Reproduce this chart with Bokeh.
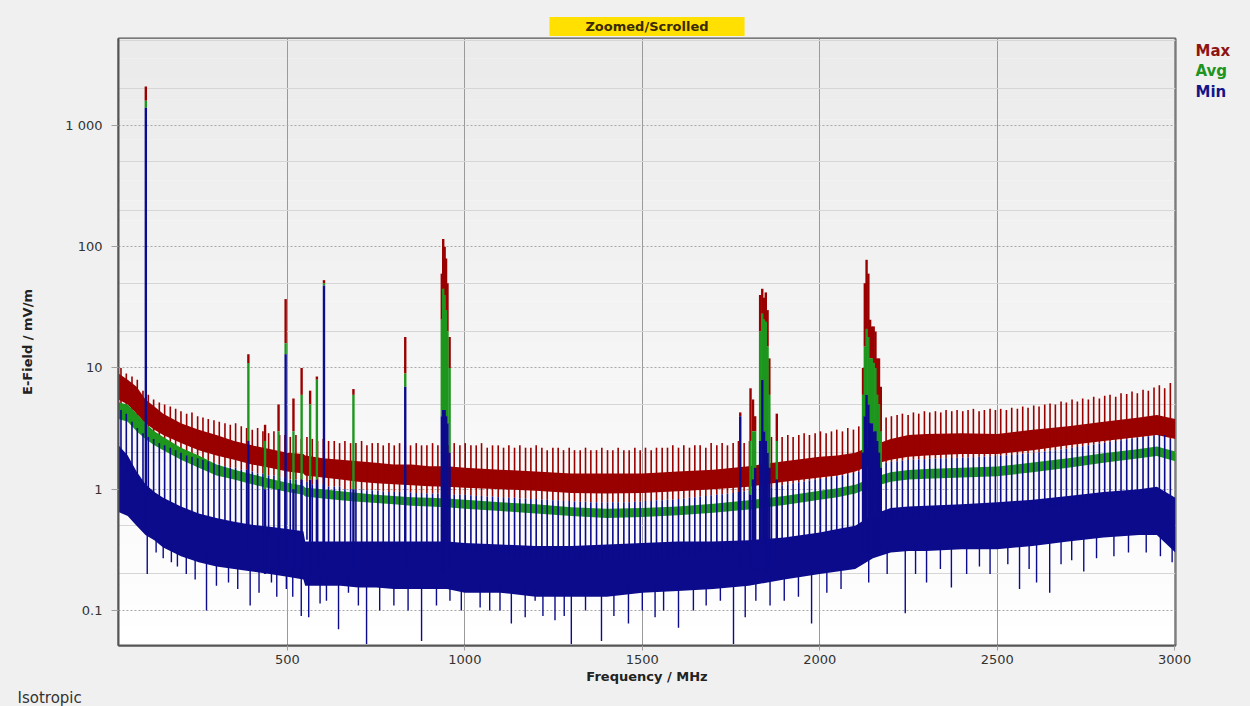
import numpy as np
from bokeh.plotting import figure
from bokeh.layouts import row
from bokeh.models import Range1d, FixedTicker, CustomJSTickFormatter, Title
from bokeh.core.properties import value
from bokeh.embed import file_html
from bokeh.resources import INLINE

# ---------------- data ----------------
freq_env = [24, 50, 75, 100, 125, 150, 200, 250, 300, 350, 400, 450, 500, 545, 550,
            600, 650, 700, 750, 800, 850, 900, 950, 1000, 1100, 1200, 1300, 1400, 1500,
            1600, 1700, 1800, 1900, 2000, 2050, 2100, 2150, 2200, 2250, 2300, 2400, 2500,
            2600, 2700, 2800, 2900, 2950, 3002]
max_lo = [5.5, 5.0, 4.2, 3.5, 3.1, 2.8, 2.4, 2.1, 1.9, 1.75, 1.6, 1.5, 1.4, 1.35, 1.3,
          1.25, 1.2, 1.15, 1.12, 1.1, 1.08, 1.06, 1.05, 1.03, 1.0, 0.97, 0.93, 0.92, 0.93,
          0.96, 1.0, 1.05, 1.15, 1.25, 1.3, 1.4, 1.6, 1.75, 1.85, 1.9, 1.95, 1.95,
          2.1, 2.3, 2.5, 2.7, 2.8, 2.6]
max_hi = [9.0, 8.0, 7.0, 5.5, 4.8, 4.2, 3.5, 3.1, 2.8, 2.5, 2.3, 2.15, 2.0, 1.95, 1.9,
          1.8, 1.75, 1.7, 1.65, 1.6, 1.6, 1.55, 1.55, 1.5, 1.45, 1.4, 1.35, 1.35, 1.35,
          1.4, 1.45, 1.55, 1.7, 1.85, 1.9, 2.0, 2.3, 2.6, 2.8, 2.85, 2.9, 2.85,
          3.1, 3.3, 3.6, 3.9, 4.1, 3.8]
avg_lo = [3.8, 3.6, 3.0, 2.6, 2.3, 2.1, 1.75, 1.5, 1.3, 1.2, 1.1, 1.02, 0.95, 0.9, 0.87,
          0.84, 0.81, 0.79, 0.77, 0.75, 0.73, 0.72, 0.71, 0.69, 0.66, 0.63, 0.6, 0.58, 0.59,
          0.61, 0.64, 0.68, 0.74, 0.82, 0.86, 0.92, 1.05, 1.15, 1.2, 1.22, 1.25, 1.28,
          1.38, 1.5, 1.65, 1.8, 1.88, 1.7]
avg_hi = [5.2, 5.0, 4.2, 3.5, 3.0, 2.7, 2.2, 1.9, 1.6, 1.45, 1.33, 1.22, 1.13, 1.07, 1.03,
          1.0, 0.96, 0.93, 0.9, 0.88, 0.86, 0.85, 0.84, 0.82, 0.78, 0.75, 0.71, 0.69, 0.7,
          0.72, 0.76, 0.81, 0.88, 0.97, 1.02, 1.09, 1.25, 1.38, 1.44, 1.47, 1.5, 1.54,
          1.66, 1.8, 1.98, 2.15, 2.25, 2.05]
min_lo = [0.65, 0.6, 0.5, 0.42, 0.38, 0.33, 0.28, 0.25, 0.23, 0.22, 0.21, 0.2, 0.19, 0.18, 0.16,
          0.16, 0.16, 0.155, 0.155, 0.15, 0.15, 0.15, 0.15, 0.14, 0.14, 0.13, 0.13, 0.13, 0.14,
          0.145, 0.15, 0.16, 0.18, 0.2, 0.21, 0.22, 0.27, 0.3, 0.31, 0.31, 0.32, 0.32,
          0.34, 0.37, 0.4, 0.42, 0.42, 0.3]
min_hi = [2.3, 1.9, 1.4, 1.1, 0.95, 0.85, 0.72, 0.63, 0.58, 0.54, 0.51, 0.49, 0.47, 0.45, 0.37,
          0.37, 0.37, 0.37, 0.37, 0.37, 0.37, 0.37, 0.37, 0.36, 0.35, 0.34, 0.34, 0.35, 0.36,
          0.37, 0.37, 0.38, 0.4, 0.44, 0.47, 0.5, 0.62, 0.7, 0.72, 0.73, 0.75, 0.78,
          0.82, 0.88, 0.95, 1.0, 1.05, 0.85]

# periodic comb of spurs
comb_freq = [31, 46, 62, 77, 93, 108, 123, 139, 154, 170,
             185, 200, 216, 231, 247, 262, 277, 293, 308, 324,
             339, 354, 370, 385, 401, 416, 431, 447, 462, 478,
             493, 508, 524, 539, 555, 570, 585, 601, 616, 632,
             647, 662, 678, 693, 709, 724, 739, 755, 770, 786,
             801, 816, 832, 847, 863, 878, 893, 909, 924, 940,
             955, 970, 986, 1001, 1017, 1032, 1047, 1063, 1078, 1094,
             1109, 1124, 1140, 1155, 1171, 1186, 1201, 1217, 1232, 1248,
             1263, 1278, 1294, 1309, 1325, 1340, 1355, 1371, 1386, 1402,
             1417, 1432, 1448, 1463, 1479, 1494, 1509, 1525, 1540, 1556,
             1571, 1586, 1602, 1617, 1633, 1648, 1663, 1679, 1694, 1710,
             1725, 1740, 1756, 1771, 1787, 1802, 1817, 1833, 1848, 1864,
             1879, 1894, 1910, 1925, 1941, 1956, 1971, 1987, 2002, 2018,
             2033, 2048, 2064, 2079, 2095, 2110, 2125, 2141, 2156, 2172,
             2187, 2202, 2218, 2233, 2249, 2264, 2279, 2295, 2310, 2326,
             2341, 2356, 2372, 2387, 2403, 2418, 2433, 2449, 2464, 2480,
             2495, 2510, 2526, 2541, 2557, 2572, 2587, 2603, 2618, 2634,
             2649, 2664, 2680, 2695, 2711, 2726, 2741, 2757, 2772, 2788,
             2803, 2818, 2834, 2849, 2865, 2880, 2895, 2911, 2926, 2942,
             2957, 2972, 2988]
comb_max = [10, 9, 8.5, 8, 6.5, 6, 5.5, 5.2, 5.0, 4.8,
            4.6, 4.4, 4.2, 4.3, 4.0, 3.9, 3.8, 3.7, 3.6, 3.5,
            3.4, 3.5, 3.3, 3.2, 3.1, 3.2, 3.0, 2.9, 3.0, 2.8,
            2.8, 2.7, 2.8, 2.6, 2.7, 2.6, 2.5, 2.6, 2.5, 2.5,
            2.4, 2.5, 2.4, 2.4, 2.5, 2.3, 2.4, 2.4, 2.3, 2.4,
            2.3, 2.4, 2.3, 2.3, 2.4, 2.3, 2.3, 2.4, 2.3, 2.3,
            2.3, 2.4, 2.3, 2.4, 2.3, 2.3, 2.4, 2.2, 2.3, 2.3,
            2.2, 2.3, 2.2, 2.3, 2.2, 2.2, 2.3, 2.2, 2.1, 2.2,
            2.2, 2.1, 2.2, 2.1, 2.1, 2.2, 2.1, 2.1, 2.2, 2.1,
            2.1, 2.2, 2.1, 2.1, 2.2, 2.1, 2.2, 2.1, 2.2, 2.2,
            2.2, 2.3, 2.2, 2.3, 2.2, 2.3, 2.3, 2.2, 2.4, 2.3,
            2.4, 2.3, 2.4, 2.5, 2.4, 2.5, 2.6, 2.5, 2.6, 2.7,
            2.6, 2.7, 2.8, 2.7, 2.8, 2.9, 2.8, 2.9, 3.0, 2.9,
            3.0, 3.1, 3.0, 3.2, 3.1, 3.3, 3.4, 3.6, 3.8, 3.9,
            3.9, 4.0, 4.1, 4.2, 4.1, 4.3, 4.2, 4.4, 4.3, 4.4,
            4.3, 4.5, 4.4, 4.5, 4.4, 4.5, 4.6, 4.4, 4.5, 4.6,
            4.5, 4.6, 4.5, 4.7, 4.6, 4.8, 4.7, 4.9, 4.8, 5.0,
            5.1, 5.0, 5.3, 5.2, 5.5, 5.3, 5.6, 5.5, 5.8, 5.6,
            5.9, 6.0, 5.8, 6.2, 6.1, 6.4, 6.2, 6.6, 6.5, 6.9,
            7.2, 6.8, 7.5]
comb_min = [4.5, 4.2, 3.6, 3.2, 2.9, 2.7, 2.6, 2.4, 2.3, 2.2,
            2.1, 2.0, 1.9, 1.85, 1.8, 1.75, 1.7, 1.65, 1.6, 1.55,
            1.5, 1.5, 1.45, 1.45, 1.4, 1.35, 1.35, 1.3, 1.3, 1.25,
            1.25, 1.2, 1.2, 1.15, 1.15, 1.1, 1.1, 1.1, 1.05, 1.05,
            1.05, 1.0, 1.0, 1.0, 1.0, 0.98, 0.98, 0.97, 0.96, 0.95,
            0.95, 0.95, 0.94, 0.94, 0.93, 0.93, 0.92, 0.92, 0.92, 0.91,
            0.91, 0.9, 0.9, 0.9, 0.89, 0.88, 0.88, 0.87, 0.87, 0.86,
            0.86, 0.85, 0.85, 0.84, 0.84, 0.83, 0.83, 0.82, 0.82, 0.81,
            0.81, 0.8, 0.8, 0.79, 0.79, 0.79, 0.78, 0.78, 0.78, 0.78,
            0.78, 0.78, 0.78, 0.78, 0.79, 0.79, 0.8, 0.8, 0.81, 0.81,
            0.82, 0.82, 0.83, 0.84, 0.85, 0.86, 0.87, 0.88, 0.89, 0.9,
            0.91, 0.92, 0.93, 0.95, 0.96, 0.97, 0.99, 1.0, 1.02, 1.04,
            1.06, 1.08, 1.1, 1.12, 1.14, 1.16, 1.18, 1.2, 1.22, 1.24,
            1.26, 1.28, 1.3, 1.33, 1.36, 1.4, 1.45, 1.5, 1.55, 1.6,
            1.65, 1.68, 1.7, 1.72, 1.74, 1.75, 1.76, 1.77, 1.78, 1.79,
            1.8, 1.8, 1.81, 1.82, 1.82, 1.83, 1.84, 1.85, 1.86, 1.87,
            1.88, 1.89, 1.9, 1.92, 1.94, 1.96, 1.98, 2.0, 2.02, 2.05,
            2.08, 2.1, 2.13, 2.16, 2.2, 2.23, 2.26, 2.3, 2.34, 2.38,
            2.42, 2.46, 2.5, 2.54, 2.58, 2.62, 2.66, 2.7, 2.74, 2.78,
            2.8, 2.8, 2.6]

# strong emitters (FM, TV, GSM900, GSM1800, UMTS ...)
big_freq = [101, 390, 437, 475, 495, 517, 540, 564, 583, 603,
            686, 832, 935, 939, 943, 947, 951, 957, 1776, 1805,
            1812, 1818, 1832, 1838, 1843, 1848, 1853, 1858, 1879, 2122,
            2127, 2132, 2137, 2142, 2147, 2152, 2157, 2162, 2167, 2172]
big_max = [2100, 13, 3.4, 5, 37, 5.6, 10, 6.5, 8.5, 53,
           6.7, 18, 60, 116, 100, 80, 50, 18, 4.3, 6.8,
           5.5, 4, 40, 45, 38, 42, 30, 12, 4.2, 10,
           50, 78, 60, 25, 22, 22, 20, 12, 12, 7]
big_avg = [1600, 11, 2.5, 3, 16, 3, 6, 5, 8, 50,
           6, 9, 25, 45, 40, 30, 20, 10, 4, 2.5,
           3, 3, 20, 28, 25, 24, 15, 6, 2.5, 6,
           15, 21, 18, 12, 12, 11, 10, 6, 5, 3]
big_min = [1400, 2.5, 1.0, 1.0, 13, 1.0, 1.2, 1.2, 1.2, 48,
           1.0, 7, 4, 4.5, 4.5, 4.0, 3.5, 2.0, 4, 0.9,
           1.2, 1.5, 2.5, 8, 3, 2.5, 2, 1.5, 1.2, 2,
           4, 6, 5, 3.5, 3.5, 3, 3, 2.5, 2, 1.5]
big_floor = [0.5, 0.3, 0.2, 0.2, 0.25, 0.2, 0.2, 0.2, 0.2, 0.25,
             0.2, 0.2, 0.2, 0.2, 0.2, 0.2, 0.2, 0.2, 0.2, 0.2,
             0.2, 0.2, 0.2, 0.2, 0.2, 0.2, 0.2, 0.2, 0.25, 0.3,
             0.3, 0.3, 0.3, 0.3, 0.3, 0.3, 0.3, 0.3, 0.3, 0.3]

# downward excursions of the Min trace
dip_freq = [105, 130, 150, 173, 190, 215, 240, 272, 300, 334, 360, 395, 420, 455, 470, 497,
            515, 539, 560, 592, 610, 644, 672, 700, 723, 760, 800, 840, 878, 920, 958, 990,
            1043, 1070, 1099, 1131, 1170, 1198, 1220, 1254, 1280, 1300, 1340, 1385, 1420, 1461,
            1500, 1536, 1560, 1602, 1644, 1680, 1720, 1757, 1790, 1820, 1860, 1900, 1940, 1977,
            2020, 2060, 2138, 2190, 2241, 2270, 2301, 2340, 2371, 2414, 2450, 2480, 2530, 2563,
            2590, 2611, 2648, 2680, 2710, 2744, 2780, 2829, 2870, 2920, 2960, 2993]
dip_low = [0.2, 0.3, 0.27, 0.25, 0.23, 0.2, 0.18, 0.1, 0.16, 0.17, 0.15, 0.11, 0.14, 0.17, 0.13, 0.15,
           0.13, 0.09, 0.088, 0.114, 0.12, 0.07, 0.14, 0.11, 0.053, 0.1, 0.11, 0.1, 0.056, 0.11, 0.12, 0.1,
           0.106, 0.1, 0.1, 0.078, 0.088, 0.12, 0.09, 0.083, 0.09, 0.053, 0.1, 0.056, 0.09, 0.078,
           0.1, 0.088, 0.1, 0.072, 0.1, 0.11, 0.12, 0.053, 0.088, 0.12, 0.11, 0.12, 0.13, 0.078,
           0.14, 0.15, 0.17, 0.2, 0.095, 0.2, 0.17, 0.22, 0.155, 0.2, 0.23, 0.2, 0.24, 0.15,
           0.22, 0.17, 0.14, 0.24, 0.26, 0.21, 0.27, 0.28, 0.3, 0.3, 0.28, 0.25]
dip_top = [0.45, 0.4, 0.35, 0.35, 0.3, 0.28, 0.26, 0.3, 0.24, 0.27, 0.23, 0.25, 0.22, 0.23, 0.21, 0.22,
           0.2, 0.2, 0.2, 0.19, 0.17, 0.19, 0.19, 0.17, 0.18, 0.17, 0.16, 0.16, 0.17, 0.16, 0.17, 0.15,
           0.16, 0.15, 0.16, 0.16, 0.16, 0.15, 0.14, 0.15, 0.14, 0.15, 0.14, 0.15, 0.14, 0.16,
           0.15, 0.16, 0.15, 0.17, 0.17, 0.16, 0.17, 0.17, 0.18, 0.17, 0.19, 0.19, 0.2, 0.22,
           0.21, 0.22, 0.3, 0.32, 0.35, 0.35, 0.35, 0.35, 0.36, 0.36, 0.36, 0.36, 0.36, 0.37,
           0.37, 0.38, 0.38, 0.39, 0.4, 0.42, 0.42, 0.45, 0.44, 0.44, 0.44, 0.4]

x_ticks = [500, 1000, 1500, 2000, 2500, 3000]
y_ticks = [0.1, 1, 10, 100, 1000]
y_minor = [0.2, 0.5, 2, 5, 20, 50, 200, 500, 2000, 5000]
series_names = ["Max", "Avg", "Min"]

# ---------------- styling ----------------
RED, GREEN, BLUE = "#990000", "#1e961e", "#0b0b8c"
LEG_COLORS = ["#8e1414", "#1f941f", "#14148a"]
FONT = "DejaVu Sans"
BG = "#f0f0f0"
W, H = 1250, 706
SIDE_W = 58                 # narrow panel holding the series names
MAIN_W = W - SIDE_W
FRAME_RIGHT = 1175
L, T, B = 118, 38, 61
R = MAIN_W - FRAME_RIGHT
X0, X1 = 24.0, 3002.5
Y0, Y1 = 0.0514, 5218.0

p = figure(width=MAIN_W, height=H, y_axis_type="log",
           x_range=Range1d(X0, X1), y_range=Range1d(Y0, Y1),
           output_backend="svg", toolbar_location=None,
           min_border_left=L, min_border_right=R, min_border_top=T, min_border_bottom=B)
p.border_fill_color = BG
p.background_fill_color = "#ffffff"
p.outline_line_color = "#555555"
p.outline_line_width = 2

# title box
p.title.text = "Zoomed/Scrolled"
p.title.align = "center"
p.title.text_font = FONT
p.title.text_font_size = "13px"
p.title.text_font_style = "bold"
p.title.text_color = "#3a2a00"
p.title.background_fill_color = "#ffe000"
p.title.padding = (36, 2)
p.title.standoff = 5

# plot-area vertical gradient (decoration)
edges = np.logspace(np.log10(Y0), np.log10(Y1), 31)
shades = np.linspace(255, 235, 30)
cols = ["#%02x%02x%02x" % (int(s), int(s), int(s)) for s in shades]
p.quad(left=X0, right=X1, bottom=edges[:-1], top=edges[1:], fill_color=cols,
       line_color=None, level="image")

# grids / axes
p.xaxis.ticker = FixedTicker(ticks=x_ticks)
p.yaxis.ticker = FixedTicker(ticks=y_ticks, minor_ticks=y_minor)
p.xgrid.grid_line_color = "#9a9a9a"
p.ygrid.grid_line_color = "#a8a8a8"
p.ygrid.grid_line_dash = "2 2"
p.ygrid.minor_grid_line_color = "#d6d6d6"
p.yaxis.formatter = CustomJSTickFormatter(
    code="return tick >= 1000 ? String(Math.round(tick/1000)) + ' 000' : String(tick);")
for ax in (p.xaxis[0], p.yaxis[0]):
    ax.axis_line_color = "#555555"
    ax.axis_line_width = 2
    ax.major_tick_line_color = "#a0a0a0"
    ax.major_tick_in = 0
    ax.minor_tick_line_color = None
    ax.major_label_text_font = FONT
    ax.major_label_text_font_size = "13px"
    ax.major_label_text_color = "#333333"
    ax.axis_label_text_font = FONT
    ax.axis_label_text_font_style = "bold"
    ax.axis_label_text_font_size = "13px"
    ax.axis_label_text_color = "#222222"
p.xaxis.major_tick_out = 5
p.xaxis.major_label_standoff = 4
p.xaxis.axis_label = "Frequency / MHz"
p.xaxis.axis_label_standoff = 2
p.yaxis.major_tick_out = 7
p.yaxis.major_label_standoff = 9
p.yaxis.axis_label = "E-Field / mV/m"
p.yaxis.axis_label_standoff = 27

# footer text
foot = Title(text="Isotropic", align="left", offset=-101, text_font=FONT,
             text_font_size="15px", text_font_style="normal", text_color="#333333",
             standoff=0)
p.add_layout(foot, "below")

# ---------------- traces ----------------
p.varea(x=freq_env, y1=max_lo, y2=max_hi, fill_color=RED)
p.segment(x0=comb_freq, y0=comb_min, x1=comb_freq, y1=comb_max, line_color=RED, line_width=1.6)
p.varea(x=freq_env, y1=avg_lo, y2=avg_hi, fill_color=GREEN)
p.varea(x=freq_env, y1=min_lo, y2=min_hi, fill_color=BLUE)
comb_base = [v / 3.0 for v in comb_min]
p.segment(x0=comb_freq, y0=comb_base, x1=comb_freq, y1=comb_min, line_color=BLUE, line_width=1.6)
p.segment(x0=dip_freq, y0=dip_low, x1=dip_freq, y1=dip_top, line_color=BLUE, line_width=1.4)

p.segment(x0=big_freq, y0=big_avg, x1=big_freq, y1=big_max, line_color=RED, line_width=2.4)
p.segment(x0=big_freq, y0=big_min, x1=big_freq, y1=big_avg, line_color=GREEN, line_width=2.4)
p.segment(x0=big_freq, y0=big_floor, x1=big_freq, y1=big_min, line_color=BLUE, line_width=2.4)

# ---------------- series names panel (right of the chart) ----------------
# its frame gets the same top/bottom borders, so its y range is in page pixels
side = figure(width=SIDE_W, height=H, x_range=Range1d(MAIN_W, W), y_range=Range1d(H - B, T),
              output_backend="svg", toolbar_location=None,
              x_axis_location=None, y_axis_location=None,
              min_border_left=0, min_border_right=0, min_border_top=T, min_border_bottom=B)
side.border_fill_color = BG
side.background_fill_color = BG
side.outline_line_color = None
side.grid.visible = False
side.text(x=[1195] * 3, y=[50, 70, 91], text=series_names,
          text_color=LEG_COLORS, text_font=value(FONT), text_font_style="bold",
          text_font_size="15px", text_baseline="middle", text_align="left")

layout = row(p, side, spacing=0, styles={"background-color": BG})
open("out.html", "w").write(file_html(layout, INLINE))
